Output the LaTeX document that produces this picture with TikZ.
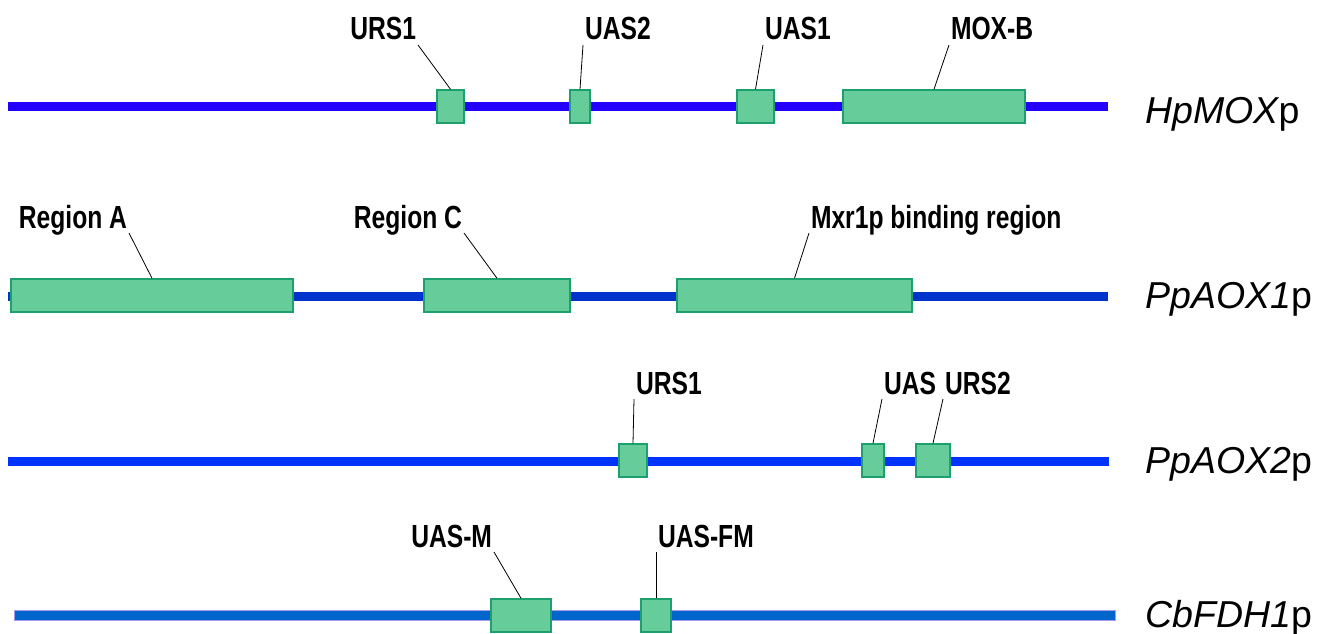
\documentclass[tikz,border=0pt]{standalone}
\usepackage{fontspec}
\setmainfont{Liberation Sans}
\newfontfamily\labfont[FakeStretch=0.77]{Liberation Sans Bold}
\usepackage{tikz}
\definecolor{boxfill}{RGB}{102,204,153}
\definecolor{boxline}{RGB}{30,160,110}
\definecolor{dnaone}{RGB}{36,0,255}
\definecolor{dnatwo}{RGB}{0,51,204}
\definecolor{dnathree}{RGB}{0,51,255}
\definecolor{dnafour}{RGB}{0,102,204}
\definecolor{dnaedge}{RGB}{165,155,240}

\begin{document}
\begin{tikzpicture}[x=1pt,y=-1pt,
  box/.style={draw=boxline,fill=boxfill,line width=1.5pt,minimum height=33pt,inner sep=0pt},
  lab/.style={font=\labfont\fontsize{32}{36}\selectfont,text depth=0pt,inner xsep=2pt,inner ysep=5pt,outer sep=0pt},
  gene/.style={font=\fontsize{37.5}{44}\selectfont,anchor=base west,inner sep=0pt},
  lead/.style={line width=0.8pt}]
\useasboundingbox (0,0) rectangle (1320,634);

\fill[dnaone] (8,102) rectangle (1108,111);
\node[box,minimum width=27pt] (hurs) at (450.5,106.5) {};
\node[box,minimum width=20pt] (huastwo) at (580,106.5) {};
\node[box,minimum width=37pt] (huasone) at (755.5,106.5) {};
\node[box,minimum width=182pt] (hmox) at (934,106.5) {};
\node[lab,anchor=base east] (lhurs) at (418,40) {URS1};
\node[lab,anchor=base west] (lhuastwo) at (583,40) {UAS2};
\node[lab,anchor=base west] (lhuasone) at (763,40) {UAS1};
\node[lab,anchor=base west] (lhmox) at (949,40) {MOX-B};
\draw[lead] (lhurs.south east)--(hurs.north);
\draw[lead] (lhuastwo.south west)--(huastwo.north);
\draw[lead] (lhuasone.south west)--(huasone.north);
\draw[lead] (lhmox.south west)--(hmox.north);
\node[gene] (hname) at (1145,123) {\itshape HpMOX\upshape p};

\fill[dnatwo] (8,291.5) rectangle (1108,300.5);
\node[box,minimum width=282pt] (prega) at (152,295.5) {};
\node[box,minimum width=146pt] (pregc) at (497,295.5) {};
\node[box,minimum width=235pt] (pmxr) at (794.5,295.5) {};
\node[lab,anchor=base east] (lprega) at (129,228) {Region A};
\node[lab,anchor=base east] (lpregc) at (464,228) {Region C};
\node[lab,anchor=base west] (lpmxr) at (809,228) {Mxr1p binding region};
\draw[lead] (lprega.south east)--(prega.north);
\draw[lead] (lpregc.south east)--(pregc.north);
\draw[lead] (lpmxr.south west)--(pmxr.north);
\node[gene] (pname) at (1145,308) {\itshape PpAOX1\upshape p};

\fill[dnathree] (8,457) rectangle (1109,466);
\node[box,minimum width=28pt] (qurs) at (633,460.5) {};
\node[box,minimum width=22pt] (quas) at (873,460.5) {};
\node[box,minimum width=34pt] (qurstwo) at (933,460.5) {};
\node[lab,anchor=base west] (lqurs) at (634,394) {URS1};
\node[lab,anchor=base west] (lquas) at (882,394) {UAS};
\node[lab,anchor=base west] (lqurstwo) at (943,394) {URS2};
\draw[lead] (lqurs.south west)--(qurs.north);
\draw[lead] (lquas.south west)--(quas.north);
\draw[lead] (lqurstwo.south west)--(qurstwo.north);
\node[gene] (qname) at (1145,473) {\itshape PpAOX2\upshape p};

\filldraw[fill=dnafour,draw=dnaedge,line width=1pt] (14,610) rectangle (1115,620);
\node[box,minimum width=60pt] (cuasm) at (521,615.5) {};
\node[box,minimum width=30pt] (cuasfm) at (656,615.5) {};
\node[lab,anchor=base east] (lcuasm) at (494,547) {UAS-M};
\node[lab,anchor=base west] (lcuasfm) at (656,547) {UAS-FM};
\draw[lead] (lcuasm.south east)--(cuasm.north);
\draw[lead] (lcuasfm.south west)--(cuasfm.north);
\node[gene] (cname) at (1145,627) {\itshape CbFDH1\upshape p};
\end{tikzpicture}
\end{document}
